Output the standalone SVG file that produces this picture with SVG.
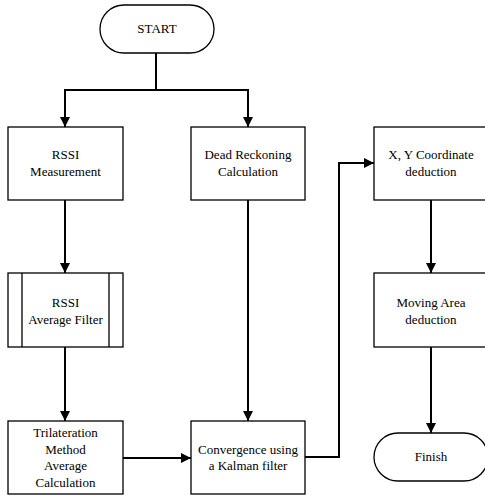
<svg xmlns="http://www.w3.org/2000/svg" width="485" height="496" viewBox="0 0 485 496">
<style>
.box{fill:#fff;stroke:#000;stroke-width:1.3}
.t{font-family:"Liberation Serif","Times New Roman",serif;font-size:13px;text-anchor:middle;fill:#000}
.c{fill:none;stroke:#000;stroke-width:2}
</style>
<defs>
<marker id="ah" markerWidth="10" markerHeight="10" refX="10" refY="5" orient="auto" markerUnits="userSpaceOnUse">
<path d="M0,0 L10,5 L0,10 Z" fill="#000"/>
</marker>
</defs>
<rect width="485" height="496" fill="#fff"/>
<g id="connectors">
<path class="c" d="M156,53 V90"/>
<path class="c" d="M156,90 H65 V127" marker-end="url(#ah)"/>
<path class="c" d="M156,90 H248 V127" marker-end="url(#ah)"/>
<path class="c" d="M65,200 V273" marker-end="url(#ah)"/>
<path class="c" d="M65,347 V421" marker-end="url(#ah)"/>
<path class="c" d="M123,458 H191" marker-end="url(#ah)"/>
<path class="c" d="M248,200 V421" marker-end="url(#ah)"/>
<path class="c" d="M305,457 H339 V163 H374" marker-end="url(#ah)"/>
<path class="c" d="M431,200 V273" marker-end="url(#ah)"/>
<path class="c" d="M431,347 V433" marker-end="url(#ah)"/>
</g>
<g id="start">
<rect class="box" x="100" y="5" width="114" height="48" rx="24"/>
<text class="t" x="157" y="33">START</text>
</g>
<g id="rssi-measurement">
<rect class="box" x="8" y="127" width="115" height="73"/>
<text class="t" x="65.5" y="159">RSSI</text>
<text class="t" x="65.5" y="176">Measurement</text>
</g>
<g id="dead-reckoning">
<rect class="box" x="191" y="127" width="114" height="73"/>
<text class="t" x="248" y="159">Dead Reckoning</text>
<text class="t" x="248" y="176">Calculation</text>
</g>
<g id="xy-coordinate">
<rect class="box" x="374" y="127" width="114" height="73"/>
<text class="t" x="431" y="159">X, Y Coordinate</text>
<text class="t" x="431" y="176">deduction</text>
</g>
<g id="rssi-average-filter">
<rect class="box" x="8" y="273" width="115" height="74"/>
<path class="box" d="M22,273 V347 M109,273 V347"/>
<text class="t" x="65.5" y="307">RSSI</text>
<text class="t" x="65.5" y="324">Average Filter</text>
</g>
<g id="moving-area">
<rect class="box" x="374" y="273" width="114" height="74"/>
<text class="t" x="431" y="307">Moving Area</text>
<text class="t" x="431" y="324">deduction</text>
</g>
<g id="trilateration">
<rect class="box" x="8" y="421" width="115" height="73"/>
<text class="t" x="65.5" y="437">Trilateration</text>
<text class="t" x="65.5" y="454">Method</text>
<text class="t" x="65.5" y="470">Average</text>
<text class="t" x="65.5" y="487">Calculation</text>
</g>
<g id="convergence">
<rect class="box" x="191" y="421" width="114" height="73"/>
<text class="t" x="248" y="454">Convergence using</text>
<text class="t" x="248" y="470">a Kalman filter</text>
</g>
<g id="finish">
<rect class="box" x="374" y="433" width="114" height="48" rx="24"/>
<text class="t" x="431" y="461">Finish</text>
</g>
</svg>
